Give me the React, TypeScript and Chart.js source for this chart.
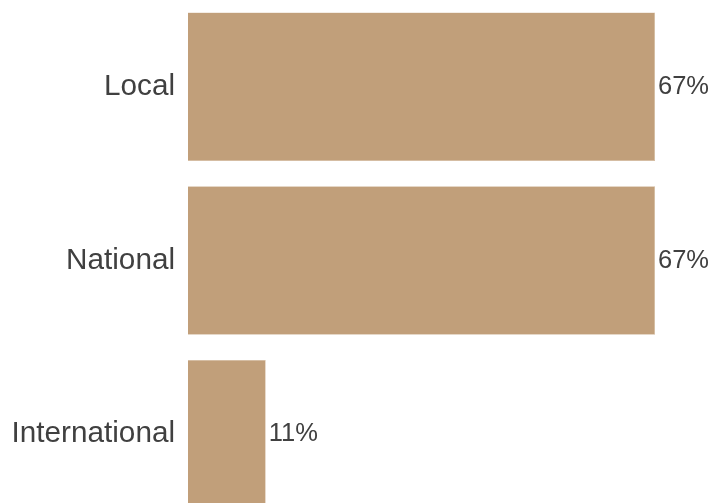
import React, { useEffect, useRef } from "react";
import { Chart, registerables } from "chart.js";

Chart.register(...registerables);

const categories = ["Local", "National", "International"];
const values = [66.7, 66.7, 11.1];
const valueLabels = ["67%", "67%", "11%"];

const valueLabelPlugin = {
  id: "valueLabels",
  afterDatasetsDraw(chart: any) {
    const ctx = chart.ctx;
    const meta = chart.getDatasetMeta(0);
    ctx.save();
    ctx.font = "25.5px 'Liberation Sans', Arial, sans-serif";
    ctx.fillStyle = "#404040";
    ctx.textAlign = "left";
    ctx.textBaseline = "middle";
    meta.data.forEach((bar: any, i: number) => {
      ctx.fillText(valueLabels[i], bar.x + 3, bar.y);
    });
    ctx.restore();
  },
};

export default function App() {
  const ref = useRef<HTMLCanvasElement>(null);
  useEffect(() => {
    if (!ref.current) return;
    const chart = new Chart(ref.current, {
      type: "bar",
      data: {
        labels: categories,
        datasets: [
          {
            data: values,
            backgroundColor: "#C19F7A",
            borderColor: "#D3B89B",
            borderWidth: 0.5,
            categoryPercentage: 1,
            barPercentage: 0.855,
          },
        ],
      },
      options: {
        indexAxis: "y",
        animation: false,
        responsive: false,
        maintainAspectRatio: false,
        layout: { padding: { left: 0, right: 56, top: 0, bottom: 0 } },
        plugins: { legend: { display: false }, tooltip: { enabled: false } },
        scales: {
          x: { display: false, min: 0, max: 66.7 },
          y: {
            grid: { display: false, drawTicks: false },
            border: { display: false },
            ticks: {
              padding: 13,
              color: "#404040",
              font: { family: "'Liberation Sans', Arial, sans-serif", size: 29.7 },
            },
            afterFit(scale: any) {
              scale.width = 188;
              scale.paddingTop = 0;
              scale.paddingBottom = 0;
            },
          },
        },
      },
      plugins: [valueLabelPlugin],
    });
    return () => chart.destroy();
  }, []);
  return (
    <div style={{ position: "fixed", left: 0, top: 0, width: 711, height: 503, overflow: "hidden", background: "#fff" }}>
      <canvas ref={ref} width={711} height={521} style={{ display: "block" }} />
    </div>
  );
}
